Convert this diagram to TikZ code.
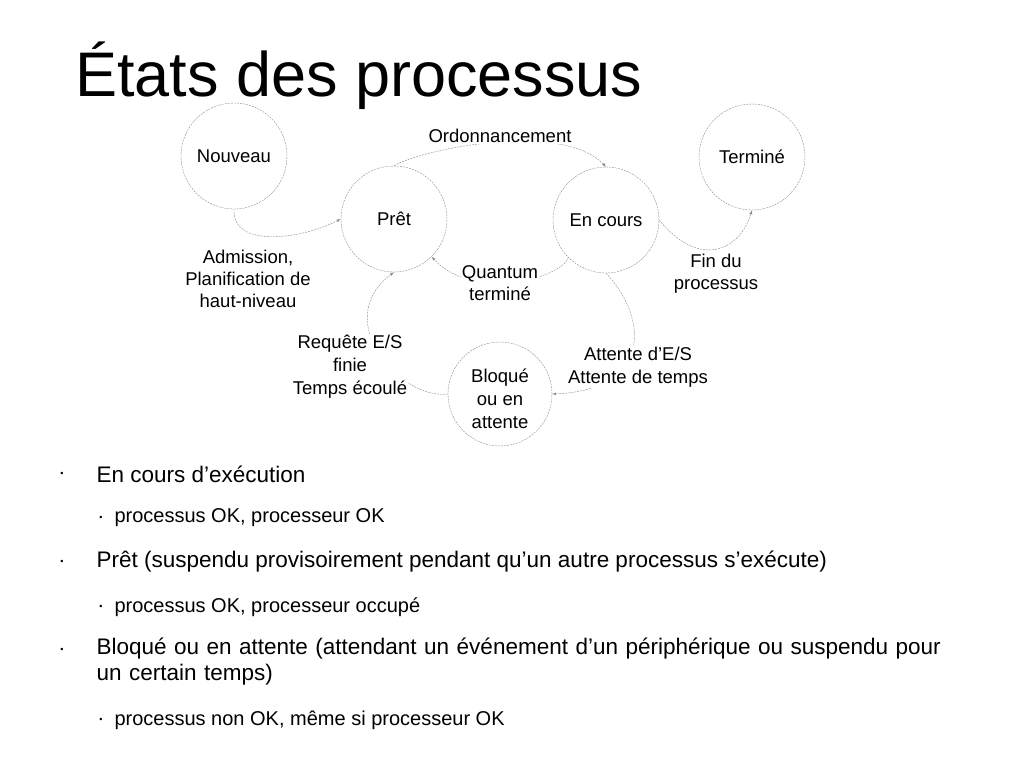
\documentclass[tikz,border=0pt]{standalone}
\usepackage{fontspec}
\setmainfont{Liberation Sans}
\begin{document}
\begin{tikzpicture}[x=1pt,y=-1pt,
  st/.style={circle,draw=gray!90,dash pattern=on 2pt off 1pt,minimum size=106pt,inner sep=0pt,font=\fontsize{18.5}{21}\selectfont},
  lab/.style={align=center,fill=white,inner sep=1pt,font=\fontsize{18.5}{22}\selectfont},
  tr/.style={draw=gray!90,thin,dash pattern=on 2pt off 1pt,-latex},
  dot/.style={anchor=center,font=\fontsize{9}{10}\selectfont},
  b1/.style={anchor=west,font=\fontsize{22.5}{27}\selectfont,align=left},
  b2/.style={anchor=west,font=\fontsize{20}{24}\selectfont}]
\useasboundingbox (0,0) rectangle (1024,768);
\node[anchor=west,inner sep=0pt,font=\fontsize{63}{70}\selectfont] (title) at (75,76) {États des processus};
\node[st] (nouv) at (234,156) {Nouveau};
\node[st] (pret) at (394,219) {Prêt};
\node[st] (enc) at (606,220) {En cours};
\node[st] (term) at (752,157) {Terminé};
\node[st,minimum size=104pt] (bloq) at (500,394) {};
\node[align=center,font=\fontsize{18.5}{23}\selectfont] (bloqt) at (500,399) {Bloqué\\ou en\\attente};
\draw[tr] (nouv.south) .. controls (232,248) and (300,240) .. (pret.west);
\draw[tr] (pret.north) .. controls (420,150) and (560,120) .. (enc.north);
\draw[tr] (enc.east) .. controls (700,270) and (740,250) .. (term.south);
\draw[tr] (enc.south west) .. controls (560,280) and (470,300) .. (pret.south east);
\draw[tr] (enc.south) .. controls (650,320) and (650,390) .. (bloq.east);
\draw[tr] (bloq.west) .. controls (400,400) and (330,320) .. (pret.south);
\node[lab] (l1) at (500,136) {Ordonnancement};
\node[lab,fill=none] (l2) at (248,279) {Admission,\\Planification de\\haut-niveau};
\node[lab] (l3) at (500,283) {Quantum\\terminé};
\node[lab,fill=none] (l4) at (716,274) {Fin du\\processus};
\node[lab,font=\fontsize{18.5}{23}\selectfont] (l5) at (350,367) {Requête E/S\\finie\\Temps écoulé};
\node[lab,font=\fontsize{18.5}{23}\selectfont] (l6) at (638,367) {Attente d'E/S\\Attente de temps};
\node[dot] (d1) at (62,474) {•};
\node[b1] (t1) at (93,474) {En cours d’exécution};
\node[dot] (d2) at (101,518) {•};
\node[b2] (t2) at (111,518) {processus OK, processeur OK};
\node[dot] (d3) at (62,562) {•};
\node[b1] (t3) at (93,562) {Prêt (suspendu provisoirement pendant qu’un autre processus s’exécute)};
\node[dot] (d4) at (101,607) {•};
\node[b2] (t4) at (111,607) {processus OK, processeur occupé};
\node[dot] (d5) at (62,650) {•};
\node[b1,text width=870pt,font=\fontsize{22.5}{26}\selectfont] (t5) at (93,662) {\raggedright Bloqué ou en attente (attendant un événement d’un périphérique ou suspendu pour un certain temps)};
\node[dot] (d6) at (101,720) {•};
\node[b2] (t6) at (111,720) {processus non OK, même si processeur OK};
\end{tikzpicture}
\end{document}
